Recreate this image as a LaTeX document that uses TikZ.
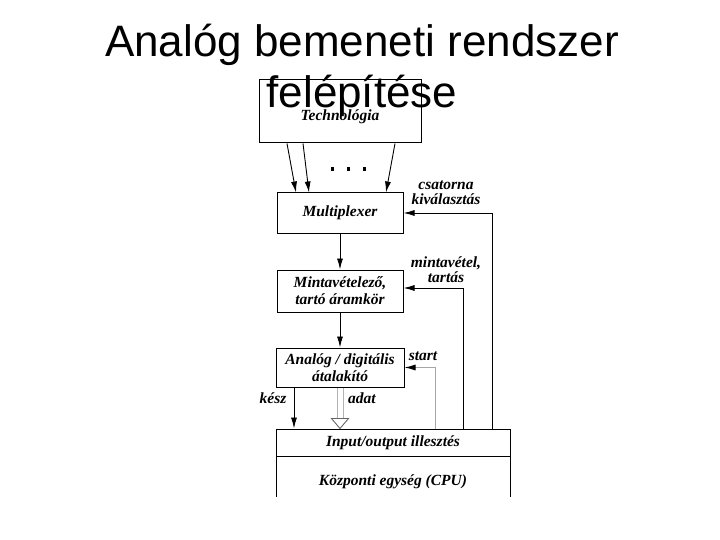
\documentclass[tikz,border=0pt]{standalone}
\usepackage{fontspec}
\setmainfont{Liberation Serif}
\newfontfamily\titlefont{Liberation Sans}
\usetikzlibrary{arrows.meta,calc}
\tikzset{
  box/.style={draw, line width=1pt, inner sep=0pt, align=center,
    font=\fontsize{15.5}{17}\selectfont\bfseries\itshape},
  lbl/.style={inner sep=0pt, align=center,
    font=\fontsize{15.5}{15}\selectfont\bfseries\itshape},
  arr/.style={line width=0.9pt, -{Latex[length=11pt,width=6pt]}},
  titletext/.style={inner sep=0pt, anchor=base, font=\titlefont\fontsize{44}{51}\selectfont}
}
\begin{document}
\begin{tikzpicture}[x=1pt,y=-1pt]
\useasboundingbox (0,0) rectangle (720,540);
% boxes
\node[box, minimum width=162pt, minimum height=63pt] (tech) at (340,111.5) {};
\node[lbl, anchor=base] (techtxt) at (340,121) {Technológia};
\node[box, minimum width=126pt, minimum height=40pt] (mux) at (340,213) {Multiplexer};
\node[box, minimum width=126pt, minimum height=42pt] (sh) at (340,291) {Mintavételező,\\tartó áramkör};
\node[box, minimum width=128pt, minimum height=39pt] (adc) at (340,367.5) {Analóg / digitális\\átalakító};
\node[box, minimum width=234pt, minimum height=27pt] (io) at (393,442.5) {Input/output illesztés};
\coordinate (cpul) at (276,456);
\coordinate (cpur) at (510,456);
\draw[line width=1pt] (cpul) -- ++(0,41);
\draw[line width=1pt] (cpur) -- ++(0,41);
\node[lbl] (cpu) at (393,482) {Központi egység (CPU)};
% technology arrows
\draw[arr] ([xshift=-53pt]tech.south) -- ([xshift=-44pt]mux.north);
\draw[arr] ([xshift=-37pt]tech.south) -- ([xshift=-31pt]mux.north);
\draw[arr] ([xshift=55pt]tech.south) -- ([xshift=46pt]mux.north);
\fill (330.5,167.5) rectangle ++(3.5,3.5);
\fill (346.5,167.5) rectangle ++(3.5,3.5);
\fill (362.5,167.5) rectangle ++(3.5,3.5);
% vertical chain
\draw[arr] (mux) -- (sh);
\draw[arr] (sh) -- (adc);
% control lines
\draw[arr] ([xshift=99pt]io.north) |- (mux.east);
\draw[arr] ([xshift=70pt]io.north) |- ([yshift=3pt]sh.east);
\draw[line width=0.9pt, gray!70, -{Latex[length=11pt,width=6pt,color=black]}] ([xshift=42pt]io.north) |- (adc.east);
\node[lbl] (csat) at (446,193) {csatorna\\kiválasztás};
\node[lbl] (mint) at (446,270) {mintavétel,\\tartás};
\node[lbl] (start) at (423,356) {start};
% kesz
\draw[arr] ([xshift=-46pt]adc.south) -- ([xshift=-46pt]adc.south |- io.north);
\node[lbl] (kesz) at (273,398) {kész};
% adat hollow arrow
\coordinate (adtip) at (adc.south |- io.north);
\draw[line width=0.9pt, gray!60] ([xshift=-3pt]adc.south) -- ($(adtip)+(-3,-9)$);
\draw[line width=0.9pt, gray!60] ([xshift=3pt]adc.south) -- ($(adtip)+(3,-9)$);
\draw[line width=0.9pt, gray!80!black, fill=white] ($(adtip)+(-8.5,-10)$) -- ($(adtip)+(8.5,-10)$) -- (adtip) -- cycle;
\node[lbl] (adat) at (362,398) {adat};
% title
\node[titletext] (t1) at (362,57) {Analóg bemeneti rendszer};
\node[titletext] (t2) at (362,108) {felépítése};
\end{tikzpicture}
\end{document}
